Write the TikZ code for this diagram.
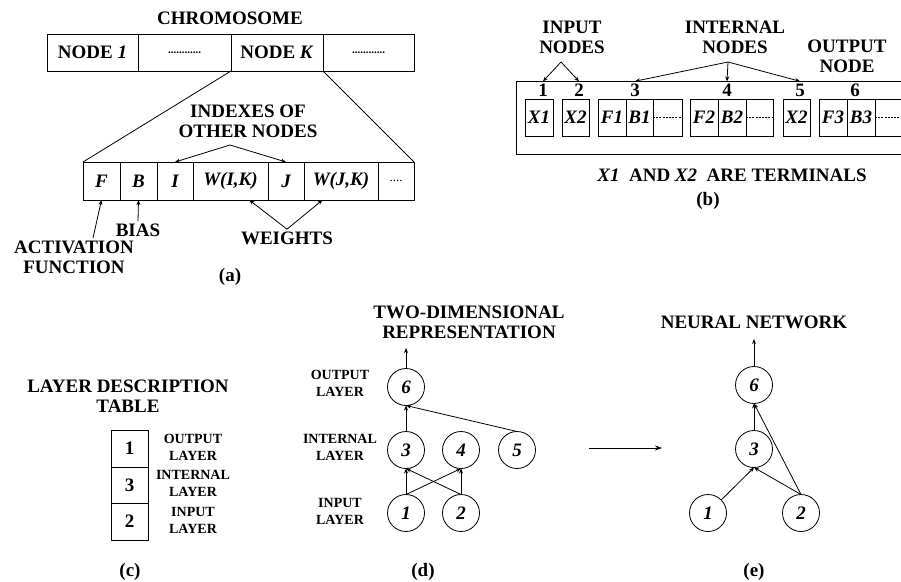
\documentclass[tikz,border=0pt]{standalone}
\usepackage{fontspec}
\setmainfont{Liberation Serif}
\usetikzlibrary{arrows.meta, calc}
\newcommand{\chromdots}{{\bfseries\fontsize{11}{11}\selectfont ............}}
\newcommand{\genedots}{{\mdseries\fontsize{13}{13}\selectfont ....}}
\tikzset{
  every picture/.style={line width=0.8pt},
  big/.style={font=\bfseries\fontsize{19}{20}\selectfont, align=center, inner sep=2pt},
  small/.style={font=\bfseries\fontsize{14}{17}\selectfont, align=center, inner sep=2pt},
  cell/.style={draw, big, inner sep=0pt, outer sep=0pt, minimum height=37pt},
  neuron/.style={draw, circle, minimum size=37pt, inner sep=0pt, outer sep=0pt, font=\bfseries\itshape\fontsize{19}{20}\selectfont},
  arrow/.style={-{Stealth[length=5pt, width=4pt]}},
  bigarrow/.style={-{Stealth[length=7pt, width=5pt]}},
  dashfill/.style={dash pattern=on 2pt off 1.2pt, line width=0.6pt},
}

\begin{document}
\begin{tikzpicture}[x=1pt, y=-1pt]
  \clip (0,0) rectangle (901,581);

  % (a) chromosome and one node
  \node[big] (chromo) at (230,18) {CHROMOSOME};
  \node[cell, minimum width=91pt] (c1) at (92.5,52.5) {NODE \textit{1}};
  \node[cell, minimum width=93pt] (c2) at (184.5,52.5) {\chromdots};
  \node[cell, minimum width=92pt] (cK) at (277,52.5) {NODE \textit{K}};
  \node[cell, minimum width=91pt] (c4) at (368.5,52.5) {\chromdots};

  \node[cell, minimum width=37pt, minimum height=38pt] (gF) at (101.5,181) {\itshape F};
  \node[cell, minimum width=37pt, minimum height=38pt] (gB) at (138.5,181) {\itshape B};
  \node[cell, minimum width=36pt, minimum height=38pt] (gI) at (175,181) {\itshape I};
  \node[cell, minimum width=75pt, minimum height=38pt] (gWI) at (230.5,181) {\itshape W(I,K)};
  \node[cell, minimum width=36pt, minimum height=38pt] (gJ) at (286,181) {\itshape J};
  \node[cell, minimum width=74pt, minimum height=38pt] (gWJ) at (341,181) {\itshape W(J,K)};
  \node[cell, minimum width=36pt, minimum height=38pt] (gmore) at (396,181) {\genedots};
  \draw (cK.south west) -- (gF.north west);
  \draw (cK.south east) -- (gmore.north east);

  \node[big] (idx) at (248,121.5) {INDEXES OF\\OTHER NODES};
  \coordinate (idxtip) at (230,145);
  \draw[arrow] (idxtip) -- (gI.north);
  \draw[arrow] (idxtip) -- (gJ.north);

  \node[big] (bias) at (138,230) {BIAS};
  \draw[arrow] (bias.north) -- (gB.south);
  \node[big] (act) at (74,257.5) {ACTIVATION\\FUNCTION};
  \coordinate (acttip) at (93,238);
  \draw[arrow] (acttip) -- (gF.south);
  \node[big] (wts) at (287,238) {WEIGHTS};
  \draw[arrow] (wts.north) -- ($(gWI.south)!0.5!(gWI.south east)$);
  \draw[arrow] (wts.north) -- ($(gWJ.south west)!0.5!(gWJ.south)$);
  \node[big] (capa) at (230,277) {(a)};

  % (b) linear genotype
  \node[big] (inp) at (572,37.5) {INPUT\\NODES};
  \node[big] (intl) at (735,37.5) {INTERNAL\\NODES};
  \node[big] (outn) at (847,56.5) {OUTPUT\\NODE};
  \draw (910,81) -- (516,81) -- (516,154) -- (910,154);

  \node[big] (b1) at (543,90) {1};
  \node[big] (b2) at (579,90) {2};
  \node[big] (b3) at (635,90) {3};
  \node[big] (b4) at (727,90) {4};
  \node[big] (b5) at (800,90) {5};
  \node[big] (b6) at (855,90) {6};
  \coordinate (inptip) at (561,62);
  \coordinate (intltip) at (728,62);
  \draw[arrow] (inptip) -- (b1.north);
  \draw[arrow] (inptip) -- (b2.north);
  \draw[arrow] (intltip) -- (b3.north);
  \draw[arrow] (intltip) -- (b4.north);
  \draw[arrow] (intltip) -- (b5.north);

  \node[cell, minimum width=28pt] (x1) at (539,117.5) {\itshape X1};
  \node[cell, minimum width=27pt] (x2) at (575.5,117.5) {\itshape X2};
  \node[cell, minimum width=28pt] (f1) at (612,117.5) {\itshape F1};
  \node[cell, minimum width=27pt] (bb1) at (639.5,117.5) {\itshape B1};
  \node[cell, minimum width=29pt] (r1) at (667.5,117.5) {};
  \node[cell, minimum width=28pt] (f2) at (704,117.5) {\itshape F2};
  \node[cell, minimum width=28pt] (bb2) at (732,117.5) {\itshape B2};
  \node[cell, minimum width=27pt] (r2) at (759.5,117.5) {};
  \node[cell, minimum width=27pt] (x5) at (796.5,117.5) {\itshape X2};
  \node[cell, minimum width=28pt] (f3) at (833,117.5) {\itshape F3};
  \node[cell, minimum width=28pt] (bb3) at (861,117.5) {\itshape B3};
  \node[cell, minimum width=28pt] (r3) at (889,117.5) {};
  \draw[dashfill] (r1.west) -- (r1.east);
  \draw[dashfill] (r2.west) -- (r2.east);
  \draw[dashfill] (r3.west) -- (r3.east);

  \node[big] (term) at (732,175) {\textit{X1}\ \ AND \textit{X2}\ \ ARE TERMINALS};
  \node[big] (capb) at (708,201) {(b)};

  % (c) layer description table
  \node[big] (ldt) at (128,396) {LAYER DESCRIPTION\\TABLE};
  \node[cell, minimum width=37pt, minimum height=37pt] (t1) at (129.5,448.5) {1};
  \node[cell, minimum width=37pt, minimum height=36pt] (t3) at (129.5,485) {3};
  \node[cell, minimum width=37pt, minimum height=37pt] (t2) at (129.5,521.5) {2};
  \node[small] (tout) at (193,447) {OUTPUT\\LAYER};
  \node[small] (tint) at (193,483.5) {INTERNAL\\LAYER};
  \node[small] (tin) at (193,520.5) {INPUT\\LAYER};
  \node[big] (capc) at (130,572) {(c)};

  % (d) two-dimensional representation
  \node[big] (twod) at (469,322) {TWO-DIMENSIONAL\\REPRESENTATION};
  \node[small] (dout) at (340,383.5) {OUTPUT\\LAYER};
  \node[small] (dint) at (340,447.5) {INTERNAL\\LAYER};
  \node[small] (din) at (340,511.5) {INPUT\\LAYER};
  \node[neuron] (d6) at (406,387) {6};
  \node[neuron] (d3) at (406,450) {3};
  \node[neuron] (d4) at (461,450) {4};
  \node[neuron] (d5) at (517,450) {5};
  \node[neuron] (d1) at (406,513) {1};
  \node[neuron] (d2) at (461,513) {2};
  \coordinate (d6out) at (406,348);
  \draw[arrow] (d6.north) -- (d6out);
  \draw[arrow] (d3.north) -- (d6.south);
  \draw[arrow] (d5.north) -- (d6.south);
  \draw[arrow] (d1.north) -- (d3.south);
  \draw[arrow] (d1.north) -- (d4.south);
  \draw[arrow] (d2.north) -- (d3.south);
  \draw[arrow] (d2.north) -- (d4.south);
  \node[big] (capd) at (423,572) {(d)};

  \coordinate (mapfrom) at (589,448);
  \coordinate (mapto) at (662,448);
  \draw[bigarrow] (mapfrom) -- (mapto);

  % (e) neural network
  \node[big] (nn) at (754,322) {NEURAL NETWORK};
  \node[neuron] (e6) at (754,385) {6};
  \node[neuron] (e3) at (754,449) {3};
  \node[neuron] (e1) at (708,513) {1};
  \node[neuron] (e2) at (801,513) {2};
  \coordinate (e6out) at (754,339);
  \draw[arrow] (e6.north) -- (e6out);
  \draw[arrow] (e3.north) -- (e6.south);
  \draw[arrow] (e1) -- (e3.south);
  \draw[arrow] (e2.north) -- (e3.south);
  \draw[arrow] (e2.north) -- (e6.south);
  \node[big] (cape) at (754,572) {(e)};
\end{tikzpicture}
\end{document}
